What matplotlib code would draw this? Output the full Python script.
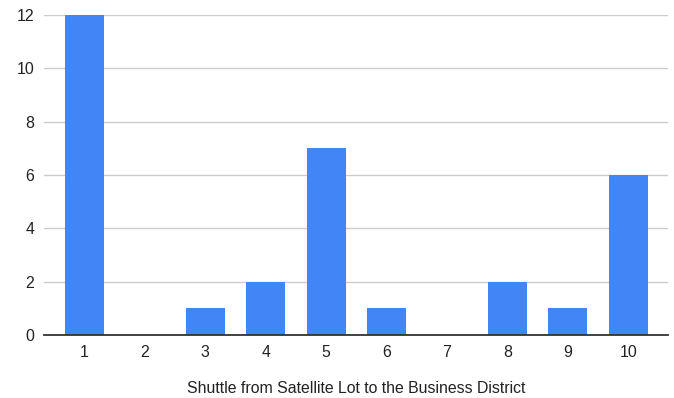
import matplotlib
matplotlib.use("Agg")
import matplotlib.pyplot as plt

categories = ["1", "2", "3", "4", "5", "6", "7", "8", "9", "10"]
values = [12, 0, 1, 2, 7, 1, 0, 2, 1, 6]
yticks = [0, 2, 4, 6, 8, 10, 12]
xlabel = "Shuttle from Satellite Lot to the Business District"

plt.rcParams['font.family'] = ['Liberation Sans', 'DejaVu Sans']

W, H = 674, 398
fig = plt.figure(figsize=(W / 100, H / 100), dpi=100)
ax = fig.add_axes([44 / W, (H - 335) / H, (668 - 44) / W, (335 - 15) / H])

pos = list(range(len(categories)))
ax.bar(pos, values, width=0.645, color="#4285F4", zorder=3)

ax.set_xlim(-0.67, len(categories) - 1 + 0.66)
ax.set_ylim(0, 12)
ax.set_yticks(yticks)
ax.set_xticks(pos)
ax.set_xticklabels(categories)
ax.grid(axis="y", color="#cccccc", linewidth=1, zorder=0)
ax.set_axisbelow(True)
for s in ["top", "right", "left"]:
    ax.spines[s].set_visible(False)
ax.spines["bottom"].set_color("#333333")
ax.spines["bottom"].set_linewidth(1.3)
ax.spines["bottom"].set_zorder(4)
ax.tick_params(axis="both", length=0, labelsize=11.4, labelcolor="#222222")
ax.tick_params(axis="y", pad=7)
ax.tick_params(axis="x", pad=7)
ax.set_xlabel(xlabel, fontsize=11.4, color="#222222", labelpad=15.5)

fig.savefig("out.png", dpi=100)
